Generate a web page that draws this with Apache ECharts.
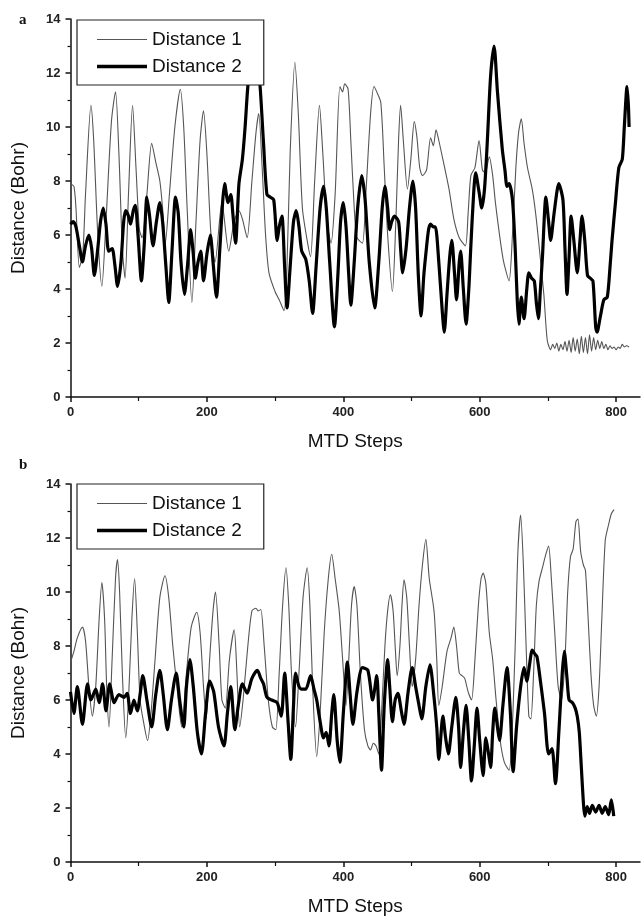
<!DOCTYPE html>
<html><head><meta charset="utf-8">
<script src="https://cdn.jsdelivr.net/npm/echarts@6/dist/echarts.min.js"></script>
<style>html,body{margin:0;padding:0;background:#fff}#c{width:643px;height:918px}</style>
</head><body><div id="c"></div>
<script>
// ---- tick labels ----
const xMajorTicks = [0, 200, 400, 600, 800];
const xMinorTicks = [100, 300, 500, 700];
const seriesNames = ['Distance 1', 'Distance 2'];
const panelLabels = ['a', 'b'];
const xTitle = 'MTD Steps';
const yTitle = 'Distance (Bohr)';

// ---- panel a : [MTD step, distance] ----
const aDist1 = [[0,7.9],[5,7.8],[8,7.0],[13,4.8],[18,5.3],[22,7.5],[30,10.8],[34,9.5],[40,6.0],[46,4.1],[52,6.5],[60,10.2],[66,11.3],[71,9.0],[76,5.5],[80,4.4],[85,7.5],[91,10.8],[96,8.5],[101,6.2],[105,5.9],[112,7.5],[119,9.4],[125,8.7],[131,8.0],[135,7.0],[139,5.7],[145,7.5],[153,10.0],[161,11.4],[166,10.0],[171,7.0],[178,3.5],[184,6.5],[190,9.5],[195,10.6],[200,9.0],[206,6.0],[212,5.0],[222,7.2],[232,5.4],[240,6.5],[247,6.9],[252,6.6],[259,5.9],[266,8.0],[272,9.8],[276,10.5],[281,8.5],[286,6.0],[291,4.6],[300,3.9],[306,3.6],[313,3.2],[317,4.5],[322,9.0],[329,12.4],[334,10.5],[340,7.0],[347,5.8],[352,5.2],[358,8.0],[365,10.8],[370,9.0],[376,6.5],[382,5.7],[388,7.5],[395,11.5],[399,11.3],[402,11.6],[407,11.4],[411,9.5],[416,7.0],[420,5.9],[428,5.7],[433,7.5],[440,10.5],[445,11.5],[449,11.3],[455,10.9],[460,8.5],[465,6.0],[472,3.9],[477,6.5],[481,9.5],[484,10.8],[488,9.5],[494,7.7],[499,8.8],[504,10.2],[508,9.6],[512,8.5],[516,8.2],[522,8.4],[528,9.6],[532,9.3],[536,9.9],[540,9.5],[546,8.8],[555,7.7],[562,6.6],[570,5.9],[579,5.6],[583,6.8],[587,8.2],[593,8.5],[599,9.5],[604,8.4],[608,8.3],[614,8.9],[619,8.2],[623,7.2],[628,6.2],[633,5.3],[636,4.9],[643,4.3],[648,6.0],[653,8.5],[657,9.8],[661,10.3],[665,9.4],[670,8.5],[677,7.7],[682,6.8],[687,5.6],[694,3.8],[699,2.1],[704,1.75],[707,1.95],[710,1.8],[713,2.0],[716,1.7],[719,1.95],[722,1.75],[725,2.05],[728,1.7],[731,2.1],[734,1.65],[737,2.2],[740,1.7],[743,2.15],[746,1.6],[749,2.25],[752,1.65],[755,2.2],[758,1.6],[761,2.3],[764,1.7],[767,2.2],[770,1.75],[773,2.1],[776,1.8],[779,2.05],[782,1.8],[785,1.95],[788,1.75],[791,1.9],[794,1.8],[797,1.85],[800,1.75],[803,1.85],[806,1.8],[809,1.95],[812,1.85],[815,1.9],[819,1.85]];
const aDist2 = [[0,6.4],[4,6.5],[8,6.3],[13,5.6],[17.5,5.0],[22,5.6],[27,6.0],[31,5.5],[35,4.5],[40,5.5],[44,6.5],[48,7.0],[52,6.4],[56,5.4],[61,5.5],[65,4.9],[69,4.1],[74,5.0],[78,6.5],[81,6.9],[85,6.7],[88,6.4],[92,6.9],[95,7.1],[99,6.0],[104,4.3],[108,5.6],[112,7.4],[116,6.7],[121,5.6],[126,6.5],[131,7.2],[135,6.5],[140,4.8],[144,3.5],[149,5.5],[154,7.4],[158,6.8],[162,5.0],[167,3.8],[172,5.0],[176,6.2],[180,5.3],[183,4.4],[187,5.0],[191,5.4],[195,4.3],[200,5.3],[205,6.0],[209,5.0],[214,3.7],[219,5.5],[223,7.2],[226,7.9],[231,7.2],[235,7.5],[238,6.8],[242,5.7],[247,7.9],[252,8.8],[256,10.0],[260,11.5],[265,12.6],[269,13.0],[273,12.7],[278,11.5],[283,9.4],[288,7.5],[293,7.4],[298,7.3],[303,5.8],[306,6.3],[310,6.7],[314,4.8],[317.5,3.3],[322,4.8],[327,6.5],[331,6.9],[335,6.3],[339,5.4],[345,5.1],[350,4.3],[355,3.1],[360,4.8],[366,7.0],[371,7.8],[375,7.0],[380,5.0],[387,2.6],[392,4.5],[396,6.5],[400,7.2],[404,6.3],[408,4.5],[411,3.4],[416,5.0],[421,7.0],[427,8.2],[432,7.3],[438,5.0],[446,3.3],[452,5.0],[457,7.0],[461,7.8],[465,7.0],[468,6.2],[471,6.5],[475,6.7],[481,6.5],[484,5.5],[487,4.6],[492,5.5],[497,7.0],[502,8.0],[506,7.0],[510,4.5],[514,3.0],[518,4.5],[521,5.3],[525,6.2],[528,6.4],[532,6.3],[535,6.3],[540,5.0],[545,3.2],[548,2.4],[552,3.8],[556,5.2],[559,5.8],[563,4.6],[566,3.6],[570,5.0],[572,5.4],[576,4.0],[580,2.7],[584,4.0],[587,5.6],[591,7.5],[594,8.3],[599,7.6],[603,7.0],[607,7.7],[611,9.4],[616,11.9],[621,13.0],[626,11.3],[633,9.2],[637,8.4],[640,7.8],[643,7.9],[648,7.3],[652,5.5],[655,3.6],[657.5,2.7],[661,3.7],[665,2.9],[669,4.0],[672,4.6],[676,4.4],[680,4.3],[683,3.5],[686,2.9],[689,4.0],[692,5.2],[697,7.4],[701,6.5],[704,5.8],[709,6.8],[716,7.9],[722,7.3],[725,5.5],[728,3.8],[731,5.2],[734,6.7],[738,5.8],[743,4.6],[747,5.8],[750,6.7],[754,5.8],[758,4.5],[762,4.4],[766,4.3],[770,2.6],[772,2.4],[777,3.0],[782,3.6],[787,3.7],[791,4.8],[794,5.8],[799,7.2],[804,8.5],[809,8.8],[812,10.0],[816,11.5],[818,10.8],[819,10.0]];

// ---- panel b : [MTD step, distance] ----
const bDist1 = [[0,7.4],[5,7.8],[10,8.3],[17.5,8.7],[22,8.2],[27,6.5],[32,5.4],[37,6.5],[42,9.0],[46,10.35],[50,9.0],[53,6.5],[56.5,5.0],[61,7.5],[66,10.5],[69,11.2],[72,10.0],[76,7.0],[81,4.6],[85,6.0],[90,9.0],[94,10.5],[98,8.5],[102,6.0],[107,5.2],[113,4.5],[118,5.5],[124,7.5],[131,9.8],[138.5,10.6],[144,9.8],[150,8.0],[156,6.5],[163,5.0],[170,7.0],[177,8.7],[185,9.25],[190,8.5],[195,6.5],[199,5.3],[204,7.5],[209,9.3],[212.6,10.0],[218,8.0],[222,6.0],[227,5.7],[233,7.5],[240,8.6],[244,7.0],[248,5.0],[253,6.0],[260,8.0],[266,9.3],[272,9.4],[275,9.3],[279,9.35],[284,8.0],[290,6.0],[296,5.0],[301,4.9],[306,7.0],[311,9.5],[316,10.9],[320,9.5],[324,7.0],[330,5.0],[335,7.0],[341,9.8],[347,10.9],[351,9.5],[355,6.5],[361,3.9],[366,5.5],[372,8.5],[378,10.5],[383,11.4],[388,10.5],[394,9.3],[399,7.5],[404,5.8],[408,7.5],[412,9.5],[416,10.2],[420,9.5],[425,7.0],[431,4.9],[436,4.3],[440,4.15],[444,4.4],[448,4.3],[452,4.0],[456,5.5],[461,8.0],[465,9.3],[469,9.9],[473,9.3],[476,8.0],[479,6.9],[483,8.0],[486,9.5],[489,10.45],[493,9.8],[497,8.0],[501,6.5],[506,7.5],[511,9.5],[516,11.0],[521,11.95],[526,10.5],[533,9.3],[537,7.5],[540,5.8],[545,6.5],[552,7.8],[558,8.3],[562,8.7],[566,8.0],[570,7.0],[574,6.9],[578,6.8],[583,6.3],[588,6.0],[593,7.5],[598,9.5],[602,10.5],[605,10.7],[609,10.3],[614,8.5],[619,7.5],[624,6.0],[630,4.5],[636,3.7],[643,3.4],[647,4.5],[652,8.0],[656,11.5],[660,12.85],[664,11.0],[668,8.0],[672,5.4],[675,5.3],[679,7.0],[683,9.5],[687,10.4],[692,10.9],[697,11.4],[701,11.7],[705,10.5],[710,8.5],[715,6.5],[720,6.0],[725,7.5],[729,10.0],[733,11.3],[737,11.6],[741,12.6],[744,12.7],[748,11.5],[752,11.0],[755,10.8],[759,9.0],[763,7.0],[767,5.8],[771,5.4],[775,6.5],[779,9.0],[784,11.9],[789,12.5],[793,12.9],[797,13.05]];
const bDist2 = [[0,6.3],[5,5.5],[10,6.5],[17.5,5.1],[25,6.6],[30,6.0],[37,6.4],[42,5.9],[47,6.6],[52,5.6],[57.5,6.6],[64,5.9],[71,6.2],[78.5,6.1],[83,6.25],[88,5.5],[93,6.0],[98,5.6],[102,6.2],[106,6.9],[112,6.0],[119,5.0],[125,6.2],[131,7.1],[136,6.2],[142,4.9],[148,6.0],[155,7.0],[160,6.0],[166,5.0],[170,6.5],[175,7.5],[180,6.5],[186,4.8],[192,4.0],[198,5.5],[204,6.7],[210,6.3],[217,5.0],[225,4.3],[230,5.5],[235,6.5],[241,4.9],[246,5.8],[252,6.6],[259,6.25],[266,6.8],[274,7.1],[279,6.8],[283,6.6],[288,6.1],[295,6.0],[303,5.9],[309,5.4],[314,7.0],[319,5.2],[323,3.8],[327,5.8],[330,7.0],[335,6.5],[339,6.4],[345,6.4],[352,6.9],[357,6.4],[361,6.0],[366,5.2],[371,4.6],[375,4.8],[379,4.3],[383,5.5],[386,6.2],[391,4.5],[395,3.7],[400,5.5],[406,7.4],[410,6.2],[414,5.1],[420,6.3],[428,7.2],[436,7.1],[443,6.0],[449,6.9],[452,5.5],[456,3.4],[460,5.8],[465,7.5],[468,6.5],[472,5.2],[476,6.0],[480,6.25],[485,5.6],[489,5.1],[495,6.3],[501,7.2],[506,6.5],[511,5.8],[515,5.3],[521,6.5],[527,7.3],[533,6.1],[537,5.0],[540,3.8],[546,5.4],[550,4.6],[554,4.0],[559,5.0],[565,6.1],[569,5.0],[572,3.5],[576,4.8],[580,5.8],[584,4.5],[588,3.0],[592,4.3],[596,5.7],[600,4.5],[605,3.2],[609,4.6],[613,4.0],[616,3.5],[619,4.8],[622,5.7],[626,5.0],[629,4.5],[634,5.8],[640,7.2],[645,5.5],[649,3.35],[654,5.0],[660,6.5],[665,7.2],[669,6.7],[673,7.3],[677,7.85],[681,7.7],[684,7.6],[689,6.7],[695,5.5],[701,4.0],[706,4.2],[711,2.9],[716,4.8],[721,7.0],[724,7.8],[728,6.8],[731,6.0],[736,5.9],[740,5.7],[743,5.4],[746,4.8],[749,3.5],[752,2.2],[754,1.7],[757.5,2.05],[761,1.8],[765,2.1],[770,1.85],[775,2.1],[779.5,1.8],[784,2.05],[789,1.75],[793,2.3],[796.5,1.7]];

const FONT = '"Liberation Sans", Arial, sans-serif';
const grids = [
  {left: 70.5, right: 3, top: 19, height: 378},
  {left: 70.5, right: 3, top: 484, height: 378}
];
function xAxes(gi) {
  return [{
    type: 'value', gridIndex: gi, min: 0, max: 835, position: 'bottom',
    name: xTitle, nameLocation: 'middle', nameGap: 35,
    nameTextStyle: {fontFamily: FONT, fontSize: 19, color: '#111'},
    axisLine: {lineStyle: {color: '#111', width: 1.5}},
    axisTick: {show: true, length: 5, customValues: xMajorTicks, lineStyle: {color: '#111', width: 1.5}},
    axisLabel: {customValues: xMajorTicks, fontFamily: FONT, fontWeight: 'bold', fontSize: 13, color: '#222', margin: 9},
    splitLine: {show: false}
  }, {
    type: 'value', gridIndex: gi, min: 0, max: 835, position: 'bottom',
    axisLine: {show: false},
    axisTick: {show: true, length: 4, customValues: xMinorTicks, lineStyle: {color: '#111', width: 1.2}},
    axisLabel: {show: false}, splitLine: {show: false}
  }];
}
function yAxis(gi) {
  return {
    type: 'value', gridIndex: gi, min: 0, max: 14, interval: 2,
    name: yTitle, nameLocation: 'middle', nameGap: 42,
    nameTextStyle: {fontFamily: FONT, fontSize: 19, color: '#111'},
    axisLine: {show: true, lineStyle: {color: '#111', width: 1.5}},
    axisTick: {show: true, length: 5, lineStyle: {color: '#111', width: 1.5}},
    minorTick: {show: true, splitNumber: 2, length: 3, lineStyle: {color: '#111', width: 1.2}},
    axisLabel: {fontFamily: FONT, fontWeight: 'bold', fontSize: 13, color: '#222', margin: 10},
    splitLine: {show: false}
  };
}
const thin = {color: '#555', width: 1.1};
const thick = {color: '#000', width: 3.2};
function line(name, data, xi, yi, style, z) {
  return {type: 'line', name, data, xAxisIndex: xi, yAxisIndex: yi, symbol: 'none', showSymbol: false,
    smooth: 0.25, lineStyle: style, itemStyle: {color: style.color}, z, animation: false};
}
function legend(top) {
  return {
    data: [
      {name: seriesNames[0], icon: 'path://M0,0H50V1.1H0Z', itemStyle: {color: thin.color}},
      {name: seriesNames[1], icon: 'path://M0,0H50V3.6H0Z', itemStyle: {color: thick.color}}
    ],
    orient: 'vertical', left: 77, top: top, symbolKeepAspect: true,
    padding: [10, 22, 9, 20], itemWidth: 50, itemHeight: 18, itemGap: 8,
    backgroundColor: '#fff', borderColor: '#222', borderWidth: 1.2, z: 10,
    textStyle: {fontFamily: FONT, fontSize: 19, color: '#111'}, selectedMode: false
  };
}
const chart = echarts.init(document.getElementById('c'), null, {renderer: 'canvas'});
chart.setOption({
  animation: false,
  backgroundColor: '#fff',
  title: panelLabels.map((t, i) => ({text: t, left: 14, top: i === 0 ? 8 : 453,
    textStyle: {fontFamily: '"Liberation Serif", "DejaVu Serif", serif', fontWeight: 'bold', fontSize: 15, color: '#111'}})),
  grid: grids,
  xAxis: [...xAxes(0), ...xAxes(1)],
  yAxis: [yAxis(0), yAxis(1)],
  legend: [legend(20), legend(484)],
  series: [
    line(seriesNames[0], aDist1, 0, 0, thin, 2),
    line(seriesNames[1], aDist2, 0, 0, thick, 3),
    line(seriesNames[0], bDist1, 2, 1, thin, 2),
    line(seriesNames[1], bDist2, 2, 1, thick, 3)
  ]
});
</script></body></html>
